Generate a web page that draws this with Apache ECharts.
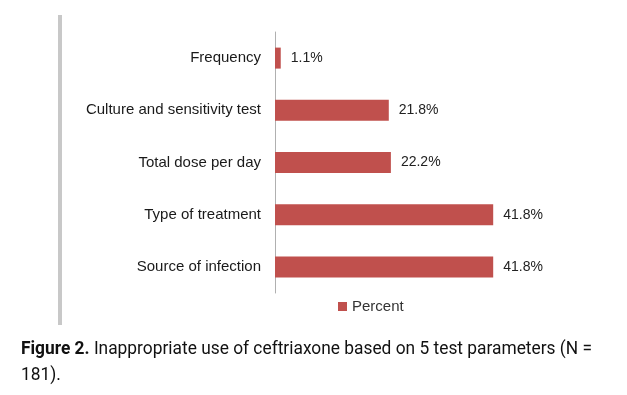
<!DOCTYPE html>
<html><head><meta charset="utf-8">
<script src="https://cdn.jsdelivr.net/npm/echarts@6/dist/echarts.min.js"></script>
<style>html,body{margin:0;padding:0;background:#fff}#c{width:627px;height:395px}</style>
</head><body><div id="c"></div>
<script>
const categories = ["Source of infection", "Type of treatment", "Total dose per day", "Culture and sensitivity test", "Frequency"];
const percentValues = [41.8, 41.8, 22.2, 21.8, 1.1];
const seriesName = "Percent";
const captionBold = "Figure 2.";
const captionLine1 = " Inappropriate use of ceftriaxone based on 5 test parameters (N =";
const captionLine2 = "181).";

const FONT = '"Liberation Sans", Arial, sans-serif';
const CAP_FONT = 'Roboto';
const CAP_SIZE = 19;
const ctx = document.createElement('canvas').getContext('2d');
ctx.font = 'bold ' + CAP_SIZE + 'px ' + CAP_FONT;
const wb = ctx.measureText(captionBold).width;
ctx.font = CAP_SIZE + 'px ' + CAP_FONT;
const wn = ctx.measureText(captionLine1).width;
const capScale = 571 / (wb + wn);

const rich = {
  b: {fontWeight: 'bold', fontSize: CAP_SIZE, fontFamily: CAP_FONT, fill: '#111'},
  n: {fontSize: CAP_SIZE, fontFamily: CAP_FONT, fill: '#111'}
};

const chart = echarts.init(document.getElementById('c'), null, {renderer: 'canvas'});
chart.setOption({
  animation: false,
  backgroundColor: '#fff',
  grid: {left: 275, top: 32, width: 261, height: 261, containLabel: false},
  xAxis: {type: 'value', min: 0, max: 50, show: false},
  yAxis: {
    type: 'category', data: categories,
    axisLine: {show: true, lineStyle: {color: '#b0b0b0', width: 1}},
    axisTick: {show: false},
    axisLabel: {margin: 14, color: '#1a1a1a', fontSize: 15, fontFamily: FONT}
  },
  legend: {
    data: [seriesName], left: 333, top: 294, itemWidth: 9, itemHeight: 9, itemGap: 4,
    icon: 'rect',
    textStyle: {color: '#333', fontSize: 15, fontFamily: FONT}
  },
  series: [{
    name: seriesName, type: 'bar', data: percentValues, barWidth: 21,
    itemStyle: {color: '#c0504d'},
    label: {show: true, position: 'right', distance: 10, color: '#222', fontSize: 14,
      fontFamily: FONT,
      formatter: p => p.value.toFixed(1) + '%'}
  }],
  graphic: [
    {type: 'rect', shape: {x: 58, y: 15, width: 4, height: 310}, style: {fill: '#c8c8c8'}},
    {type: 'text', x: 21, y: 349, scaleX: capScale, originX: 0, originY: 0, style: {
      x: 0, y: 0, verticalAlign: 'middle', rich: rich,
      text: '{b|' + captionBold + '}{n|' + captionLine1 + '}'
    }},
    {type: 'text', x: 21, y: 375, scaleX: capScale, originX: 0, originY: 0, style: {
      x: 0, y: 0, verticalAlign: 'middle', rich: rich,
      text: '{n|' + captionLine2 + '}'
    }}
  ]
});
</script></body></html>
